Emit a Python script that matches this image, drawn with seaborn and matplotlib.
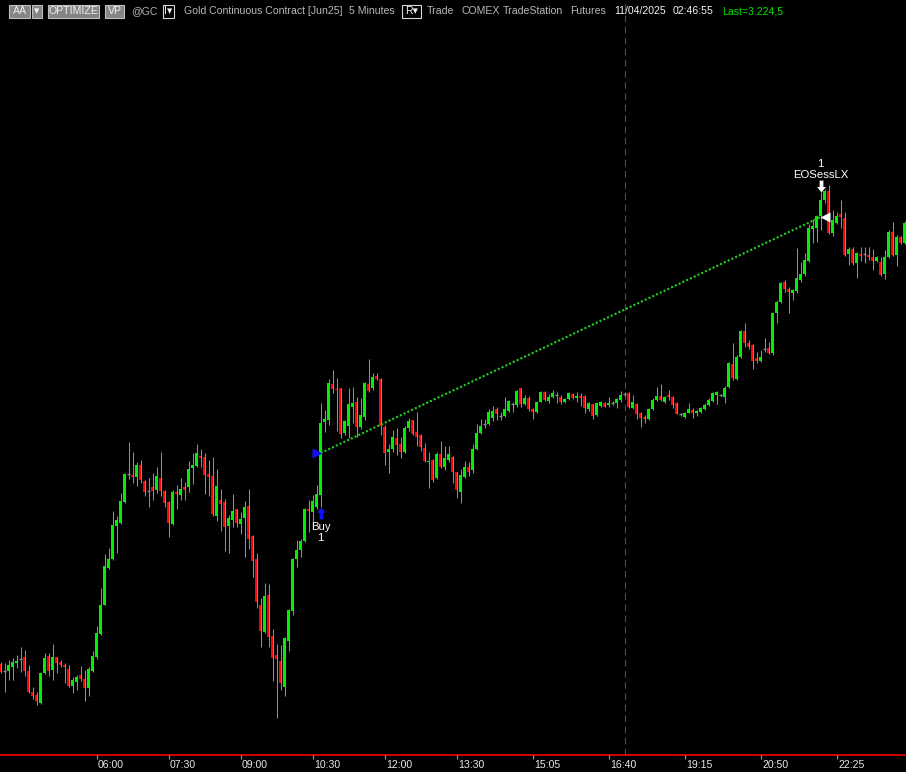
import numpy as np
import pandas as pd
import matplotlib
matplotlib.use("Agg")
import matplotlib.pyplot as plt
from matplotlib.patches import Rectangle
import seaborn as sns

# 5-minute OHLC bars (no price scale shown, so relative units)
opens = [108, 101, 101, 105, 109, 113, 115, 101, 80, 77,
         69, 99, 116, 102, 115, 110, 107, 103, 86, 90,
         97, 93, 84, 101, 115, 138, 167, 204, 213, 246,
         249, 270, 298, 297, 295, 307, 291, 281, 285, 282,
         294, 281, 270, 248, 280, 277, 285, 285, 304, 306,
         316, 315, 298, 296, 256, 272, 270, 246, 252, 263,
         248, 254, 266, 236, 213, 167, 140, 177, 136, 117,
         111, 85, 131, 161, 213, 222, 231, 263, 260, 265,
         277, 350, 352, 388, 383, 384, 339, 346, 365, 370,
         345, 355, 388, 384, 396, 393, 345, 320, 323, 334,
         328, 320, 344, 352, 340, 337, 324, 310, 312, 294,
         318, 305, 312, 315, 300, 280, 295, 305, 302, 323,
         339, 348, 348, 354, 363, 356, 356, 361, 368, 367,
         384, 368, 374, 363, 360, 370, 380, 371, 375, 377,
         375, 370, 373, 378, 374, 376, 376, 363, 368, 357,
         366, 369, 367, 369, 369, 372, 378, 379, 364, 368,
         359, 355, 353, 363, 372, 376, 370, 377, 375, 369,
         358, 355, 359, 362, 359, 360, 363, 367, 371, 377,
         377, 375, 385, 408, 393, 415, 441, 429, 427, 414,
         411, 423, 424, 419, 459, 470, 490, 483, 479, 481,
         492, 498, 511, 543, 544, 556, 572, 581, 539, 549,
         558, 554, 518, 523, 509, 518, 518, 517, 515, 511,
         510, 498, 515, 540, 517, 535, 529]
highs = [110, 109, 112, 114, 117, 125, 122, 107, 85, 80,
         99, 119, 119, 128, 115, 112, 109, 107, 95, 97,
         106, 102, 105, 121, 146, 184, 218, 224, 261, 256,
         279, 299, 330, 320, 310, 312, 292, 294, 299, 305,
         320, 282, 271, 282, 287, 294, 290, 311, 319, 328,
         323, 319, 312, 315, 303, 283, 273, 257, 278, 263,
         260, 271, 283, 237, 219, 174, 189, 188, 143, 128,
         127, 135, 163, 214, 232, 233, 264, 272, 277, 287,
         369, 362, 393, 402, 394, 384, 352, 384, 385, 375,
         374, 390, 413, 399, 399, 394, 347, 328, 342, 344,
         335, 346, 354, 352, 360, 338, 329, 320, 313, 320,
         331, 326, 326, 316, 300, 303, 311, 310, 328, 348,
         353, 353, 363, 366, 365, 360, 375, 372, 370, 382,
         384, 377, 376, 364, 371, 381, 381, 378, 382, 380,
         377, 374, 380, 379, 380, 379, 377, 370, 368, 369,
         371, 370, 375, 371, 374, 381, 380, 380, 377, 369,
         360, 357, 364, 374, 385, 388, 376, 382, 376, 370,
         359, 360, 369, 364, 362, 365, 369, 374, 380, 381,
         378, 386, 410, 429, 417, 442, 449, 432, 428, 420,
         422, 434, 430, 459, 472, 490, 492, 485, 483, 524,
         510, 519, 548, 553, 557, 580, 583, 587, 562, 560,
         572, 560, 525, 525, 520, 525, 525, 525, 523, 516,
         515, 522, 542, 550, 537, 536, 551]
lows = [99, 80, 92, 92, 104, 100, 96, 79, 73, 67,
        68, 98, 96, 92, 99, 105, 89, 85, 79, 82,
        91, 71, 76, 100, 113, 137, 167, 203, 212, 219,
        248, 269, 293, 289, 286, 289, 276, 265, 272, 279,
        276, 265, 235, 247, 263, 272, 272, 280, 288, 305,
        305, 278, 276, 256, 251, 241, 221, 219, 245, 245,
        238, 215, 223, 195, 164, 125, 139, 125, 91, 54,
        82, 76, 121, 157, 205, 215, 230, 240, 247, 263,
        265, 340, 347, 379, 341, 334, 337, 334, 349, 335,
        343, 352, 380, 382, 392, 337, 307, 299, 320, 317,
        314, 319, 341, 337, 326, 321, 310, 284, 290, 293,
        304, 302, 310, 289, 274, 269, 294, 296, 299, 322,
        338, 344, 347, 351, 352, 352, 355, 360, 360, 365,
        365, 367, 361, 353, 359, 370, 371, 369, 374, 369,
        368, 369, 372, 373, 370, 366, 359, 361, 353, 356,
        365, 365, 365, 367, 364, 370, 375, 364, 363, 353,
        345, 349, 352, 362, 371, 371, 369, 372, 364, 358,
        356, 354, 359, 354, 356, 359, 362, 366, 370, 368,
        376, 369, 384, 392, 392, 414, 425, 423, 403, 409,
        410, 420, 418, 417, 449, 469, 480, 459, 472, 479,
        490, 496, 510, 529, 530, 542, 569, 538, 536, 548,
        544, 516, 507, 507, 494, 511, 509, 512, 502, 510,
        496, 493, 514, 516, 506, 528, 528]
closes = [100, 101, 107, 110, 111, 113, 101, 80, 76, 71,
          99, 114, 101, 115, 109, 107, 105, 86, 92, 95,
          93, 84, 103, 116, 139, 167, 206, 213, 247, 252,
          271, 298, 298, 295, 307, 292, 280, 281, 281, 296,
          281, 269, 249, 280, 278, 283, 282, 303, 307, 319,
          314, 297, 295, 258, 286, 268, 245, 254, 261, 249,
          253, 265, 233, 211, 170, 141, 176, 135, 114, 113,
          89, 134, 162, 213, 222, 231, 263, 261, 271, 278,
          349, 353, 389, 383, 382, 338, 351, 368, 369, 345,
          357, 389, 381, 395, 393, 346, 319, 323, 335, 327,
          320, 344, 351, 338, 335, 325, 311, 311, 292, 318,
          305, 314, 318, 300, 282, 297, 305, 300, 323, 339,
          346, 348, 360, 361, 358, 356, 363, 371, 368, 381,
          368, 374, 363, 360, 370, 380, 372, 375, 379, 377,
          370, 373, 379, 374, 376, 374, 364, 369, 356, 369,
          370, 365, 369, 369, 373, 377, 378, 365, 370, 358,
          354, 353, 363, 372, 376, 372, 375, 375, 367, 358,
          358, 359, 363, 359, 361, 364, 367, 372, 379, 380,
          377, 384, 409, 394, 415, 441, 429, 425, 411, 411,
          415, 423, 419, 459, 470, 489, 483, 480, 482, 494,
          498, 512, 544, 546, 556, 572, 581, 539, 552, 556,
          555, 517, 523, 509, 519, 516, 518, 515, 511, 515,
          497, 515, 540, 517, 535, 529, 549]

tick_labels = ["06:00", "07:30", "09:00", "10:30", "12:00", "13:30",
               "15:05", "16:40", "19:15", "20:50", "22:25"]
session_close = "17:00"

entry_time, entry_price = "10:40", 319
exit_time, exit_price = "22:05", 555

# two sessions of 5 minute bars, with the 17:00-18:00 break
times = pd.date_range("2025-04-10 04:00", "2025-04-10 17:00", freq="5min").append(
    pd.date_range("2025-04-10 18:05", periods=70, freq="5min"))
df = pd.DataFrame({"time": times, "open": opens, "high": highs,
                   "low": lows, "close": closes})
df["bar"] = np.arange(len(df))
df["hhmm"] = df["time"].dt.strftime("%H:%M")
bar_of = dict(zip(df["hhmm"], df["bar"]))

sns.set_theme(style="dark", rc={"figure.facecolor": "black", "axes.facecolor": "black"})
plt.rcParams["font.family"] = ["Liberation Sans", "DejaVu Sans"]

GREEN = "#00f000"
RED = "#ff0000"
WICK = "#8e8e8e"

fig = plt.figure(figsize=(9.06, 7.72), dpi=100)
ax = fig.add_axes([0, 0, 1, 1])
ax.set_xlim(-0.175, 226.325)
ax.set_ylim(0, 772)
ax.axis("off")

# session break
ax.vlines(bar_of[session_close], 17, 772, colors="#4e4e4e", linestyles=(0, (6, 4)), lw=0.8)

# candles
ax.vlines(df["bar"], df["low"], df["high"], colors=WICK, lw=0.75)
up = df[df["close"] > df["open"]]
dn = df[df["close"] < df["open"]]
flat = df[df["close"] == df["open"]]
ax.bar(up["bar"], np.maximum(up["close"] - up["open"], 1), bottom=up["open"],
       width=0.8, color=GREEN, linewidth=0)
ax.bar(dn["bar"], np.maximum(dn["open"] - dn["close"], 1), bottom=dn["close"],
       width=0.8, color=RED, linewidth=0)
ax.hlines(flat["close"], flat["bar"] - 0.4, flat["bar"] + 0.4, colors=WICK, lw=1)

# trade line entry -> exit
eb, xb = bar_of[entry_time], bar_of[exit_time]
sns.lineplot(x=[eb, xb], y=[entry_price, exit_price], ax=ax, color="#22d022",
             linewidth=1.5, linestyle=(0, (1, 1)), legend=False)

up_arrow = [(0, 1), (-0.75, 0.1), (-0.32, 0.1), (-0.32, -1), (0.32, -1), (0.32, 0.1), (0.75, 0.1), (0, 1)]
dn_arrow = [(x, -y) for x, y in up_arrow]

ax.plot(eb - 1.05, entry_price, marker=">", ms=6.5, color="#1010ff", mec="none")
elow = df.loc[eb, "low"]
ax.plot(eb, elow - 6, marker=up_arrow, ms=8.5, color="#1010ff", mec="none")
ax.text(eb, elow - 20, "Buy", color="white", ha="center", va="center", fontsize=8.2)
ax.text(eb, elow - 31, "1", color="white", ha="center", va="center", fontsize=8.2)

ax.plot(xb + 1.0, exit_price, marker="<", ms=6.5, color="white", mec="none")
xhigh = df.loc[xb, "high"]
ax.plot(xb, xhigh + 6, marker=dn_arrow, ms=8.5, color="white", mec="none")
ax.text(xb, xhigh + 17, "EOSessLX", color="white", ha="center", va="center", fontsize=8.2)
ax.text(xb, xhigh + 28, "1", color="white", ha="center", va="center", fontsize=8.2)

# time axis
ax.axhline(17, color="#e00000", lw=1.3)
tick_bars = [bar_of[t] for t in tick_labels]
ax.vlines(tick_bars, 13, 17, colors="#9a9a9a", lw=0.8)
for b, t in zip(tick_bars, tick_labels):
    ax.text(b + 0.35, 7.5, t, color="#e8e8e8", ha="left", va="center", fontsize=7.6)

# header strip (screen pixel coords)
ui = fig.add_axes([0, 0, 1, 1])
ui.set_xlim(0, 906)
ui.set_ylim(772, 0)
ui.axis("off")


def button(x0, x1, label, fill, edge, fg):
    ui.add_patch(Rectangle((x0, 4.5), x1 - x0, 13, facecolor=fill, edgecolor=edge, lw=0.8))
    ui.text((x0 + x1) / 2, 11.5, label, color=fg, ha="center", va="center", fontsize=7.6)


button(9, 30, "AA", "#858585", "#bdbdbd", "#f0f0f0")
button(31.5, 42, "▾", "#858585", "#bdbdbd", "#f0f0f0")
button(48, 99, "OPTIMIZE", "#858585", "#bdbdbd", "#f0f0f0")
button(105, 124, "VP", "#858585", "#bdbdbd", "#f0f0f0")
button(163, 174, "I▾", "black", "#d8d8d8", "#f0f0f0")
button(402, 421, "R▾", "black", "#d8d8d8", "#f0f0f0")

header = [(131, "@GC", "#b0b0b0"),
          (184, "Gold Continuous Contract [Jun25]", "#b8b8b8"),
          (349, "5 Minutes", "#b8b8b8"),
          (427, "Trade", "#b8b8b8"),
          (462, "COMEX", "#b8b8b8"),
          (503, "TradeStation", "#b8b8b8"),
          (570, "Futures", "#b8b8b8"),
          (614, "11/04/2025", "#f4f4f4"),
          (673, "02:46:55", "#f4f4f4"),
          (722, "Last=3.224,5", "#00e000")]
for x, s, c in header:
    ui.text(x, 11.5, s, color=c, ha="left", va="center", fontsize=7.6)

fig.savefig("out.png", dpi=100, facecolor="black")
